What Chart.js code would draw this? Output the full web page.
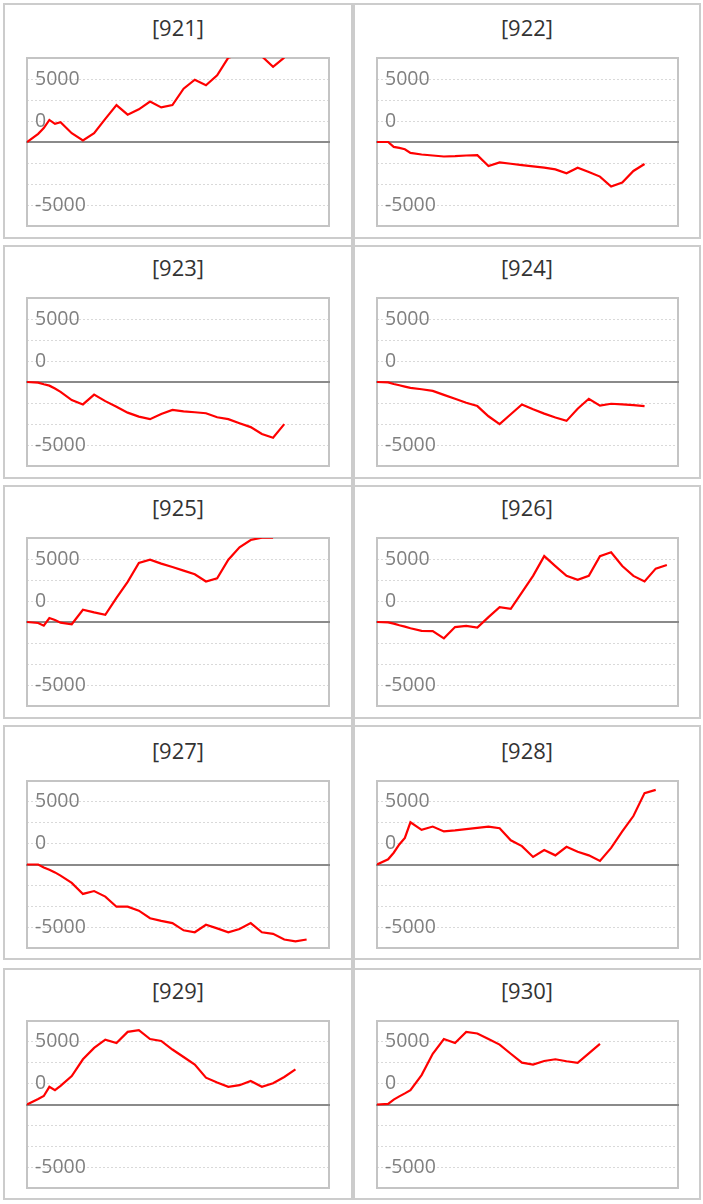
<!DOCTYPE html>
<html>
<head>
<meta charset="utf-8">
<script src="https://cdn.jsdelivr.net/npm/chart.js@4.4.0/dist/chart.umd.min.js"></script>
<style>
  html, body { margin: 0; padding: 0; background: #ffffff; }
  body { position: relative; width: 703px; height: 1204px; overflow: hidden; }
  .panel { position: absolute; box-sizing: border-box; border: 2px solid #cccccc; background: #ffffff; }
  .title { position: absolute; text-align: center; font-family: "Open Sans", sans-serif; font-size: 22px;
           color: #333333; height: 30px; line-height: 30px; white-space: nowrap; }
  .divider { position: absolute; background: #cccccc; }
  canvas { position: absolute; }
</style>
</head>
<body>
<script>
// ---------------- data ----------------
const panelIds = ['[921]', '[922]', '[923]', '[924]', '[925]', '[926]', '[927]', '[928]', '[929]', '[930]'];

// shared x positions (sample steps)
const xSteps = [0, 1, 1.5, 2, 2.5, 3, 4, 5, 6, 7, 8, 9, 10, 11, 12, 13, 14, 15, 16, 17, 18, 19, 20, 21, 22, 23, 24, 25, 26];
const xMin = 0;
const xMax = 27;

const s921 = [0, 650, 1100, 1750, 1440, 1570, 700, 130, 700, 1830, 2930, 2170, 2590, 3215, 2745, 2930, 4235, 4940, 4500, 5300, 6700, 6900, 6900, 6800, 5960, 6700];
const s922 = [0, 0, -390, -470, -575, -860, -990, -1070, -1150, -1125, -1070, -1045, -1910, -1620, -1725, -1830, -1935, -2040, -2170, -2480, -2040, -2380, -2745, -3530, -3215, -2300, -1750];
const s923 = [0, -50, -180, -290, -520, -780, -1440, -1780, -1000, -1520, -1960, -2430, -2745, -2950, -2535, -2220, -2330, -2400, -2480, -2795, -2950, -3270, -3580, -4130, -4420, -3345];
const s924 = [0, -30, -160, -260, -365, -470, -575, -705, -1020, -1330, -1650, -1910, -2720, -3345, -2560, -1780, -2170, -2510, -2820, -3085, -2120, -1330, -1880, -1725, -1780, -1830, -1910];
const s925 = [0, -80, -290, 315, 160, -50, -180, 970, 760, 575, 1910, 3190, 4680, 4940, 4630, 4365, 4080, 3790, 3215, 3475, 4940, 5930, 6510, 6700, 6700];
const s926 = [0, -30, -130, -260, -365, -500, -705, -730, -1300, -400, -315, -445, 390, 1175, 1045, 2350, 3660, 5230, 4440, 3660, 3350, 3660, 5230, 5540, 4440, 3660, 3215, 4235, 4520];
const s927 = [0, 0, -235, -420, -630, -890, -1465, -2350, -2120, -2560, -3370, -3370, -3685, -4290, -4500, -4680, -5255, -5410, -4810, -5100, -5410, -5150, -4680, -5410, -5540, -5990, -6140, -5990];
const s928 = [0, 420, 940, 1600, 2120, 3370, 2770, 3030, 2640, 2720, 2820, 2930, 3030, 2900, 1935, 1465, 600, 1150, 730, 1410, 1020, 730, 290, 1330, 2640, 3870, 5700, 5960];
const s929 = [0, 445, 680, 1410, 1150, 1490, 2275, 3610, 4520, 5175, 4915, 5800, 5935, 5230, 5070, 4390, 3790, 3190, 2145, 1750, 1410, 1540, 1880, 1410, 1700, 2195, 2800];
const s930 = [0, 50, 390, 650, 890, 1150, 2350, 4050, 5230, 4915, 5800, 5670, 5230, 4785, 4050, 3345, 3190, 3475, 3610, 3450, 3320, 4080, 4835];

const seriesList = [s921, s922, s923, s924, s925, s926, s927, s928, s929, s930];

// y axis
const yMin = -20000 / 3;
const yMax = 20000 / 3;
const yTickValues = [-5000, -10000 / 3, -5000 / 3, 0, 5000 / 3, 10000 / 3, 5000];
const yTickLabels = ['-5000', '', '', '', '0', '', '5000'];

// ---------------- layout (page geometry) ----------------
const colBox = [{ left: 3, width: 350 }, { left: 353, width: 348 }];
const rowBox = [{ top: 3, bottom: 239 }, { top: 245, bottom: 479 }, { top: 485, bottom: 719 }, { top: 725, bottom: 960 }, { top: 968, bottom: 1200 }];
const colArea = [{ left: 27, right: 329 }, { left: 377, right: 678 }];
const rowArea = [{ top: 58, h: 168 }, { top: 298, h: 168 }, { top: 538, h: 168 }, { top: 781, h: 167 }, { top: 1021, h: 167 }];
const PAD = 8;

const divider = document.createElement('div');
divider.className = 'divider';
Object.assign(divider.style, { left: '351px', top: '3px', width: '4px', height: '1197px' });

const framePlugin = {
  id: 'frameAndZero',
  beforeDatasetsDraw(chart) {
    const { ctx, chartArea: a, scales } = chart;
    ctx.save();
    ctx.strokeStyle = '#c4c4c4';
    ctx.lineWidth = 2;
    ctx.strokeRect(a.left, a.top, a.right - a.left, a.bottom - a.top);
    const zy = Math.round(scales.y.getPixelForValue(0));
    ctx.strokeStyle = '#8a8a8a';
    ctx.lineWidth = 2;
    ctx.beginPath();
    ctx.moveTo(a.left - 1, zy);
    ctx.lineTo(a.right + 1, zy);
    ctx.stroke();
    ctx.restore();
  }
};

panelIds.forEach((id, i) => {
  const r = Math.floor(i / 2), c = i % 2;
  const cb = colBox[c], rb = rowBox[r], ca = colArea[c], ra = rowArea[r];

  const panel = document.createElement('div');
  panel.className = 'panel';
  Object.assign(panel.style, { left: cb.left + 'px', top: rb.top + 'px', width: cb.width + 'px', height: (rb.bottom - rb.top) + 'px' });
  document.body.appendChild(panel);

  const title = document.createElement('div');
  title.className = 'title';
  title.textContent = id;
  Object.assign(title.style, { left: cb.left + 'px', width: cb.width + 'px', top: (ra.top - 31.5 - 15) + 'px' });
  document.body.appendChild(title);

  const areaW = ca.right - ca.left, areaH = ra.h;
  const canvas = document.createElement('canvas');
  canvas.width = areaW + 2 * PAD;
  canvas.height = areaH + 2 * PAD;
  canvas.style.width = canvas.width + 'px';
  canvas.style.height = canvas.height + 'px';
  canvas.style.left = (ca.left - PAD) + 'px';
  canvas.style.top = (ra.top - PAD) + 'px';
  document.body.appendChild(canvas);

  const ys = seriesList[i];
  const chart = new Chart(canvas, {
    type: 'line',
    data: {
      datasets: [{
        data: ys.map((y, k) => ({ x: xSteps[k], y: y })),
        borderColor: '#ff0000',
        borderWidth: 2.2,
        pointRadius: 0,
        tension: 0,
        fill: false
      }]
    },
    options: {
      responsive: false,
      animation: false,
      events: [],
      layout: { padding: PAD },
      plugins: { legend: { display: false }, title: { display: false }, tooltip: { enabled: false } },
      scales: {
        x: { type: 'linear', min: xMin, max: xMax, display: false },
        y: {
          type: 'linear', min: yMin, max: yMax,
          afterBuildTicks: (s) => { s.ticks = yTickValues.map(v => ({ value: v })); },
          afterFit: (s) => { s.width = 0; s.paddingTop = 0; s.paddingBottom = 0; },
          ticks: {
            mirror: true, padding: 8, color: '#808080', autoSkip: false,
            font: { family: '"Open Sans"', size: 19.5 },
            callback: (v, idx) => yTickLabels[idx]
          },
          grid: {
            drawTicks: false, lineWidth: 1,
            color: (ctx) => (ctx.tick && ctx.tick.value === 0) ? 'rgba(0,0,0,0)' : '#d9d9d9'
          },
          border: { display: false, dash: [2, 2] }
        }
      }
    },
    plugins: [framePlugin]
  });

  // align chart area precisely with the target box
  const a = chart.chartArea;
  canvas.style.left = (ca.left - a.left) + 'px';
  canvas.style.top = (ra.top - a.top) + 'px';
});

document.body.appendChild(divider);
</script>
</body>
</html>
